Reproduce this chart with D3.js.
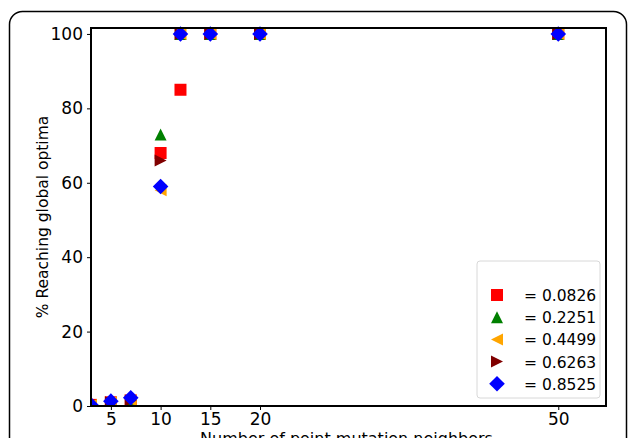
<!DOCTYPE html>
<html>
<head>
<meta charset="utf-8">
<script src="https://cdn.jsdelivr.net/npm/d3@7"></script>
<style>
  body { margin: 0; background: #fff; }
  svg { font-family: "DejaVu Sans", sans-serif; }
</style>
</head>
<body>
<script>
// neighbors on x, % reaching global optima on y
var neighbors = [3, 5, 7, 10, 12, 15, 20, 50];
var sigmaLabels = ["= 0.0826", "= 0.2251", "= 0.4499", "= 0.6263", "= 0.8525"];
var pct0826 = [0.3, 1.0, 1.5, 68, 85, 100, 100, 100];
var pct2251 = [0.3, 1.0, 1.5, 73, 100, 100, 100, 100];
var pct4499 = [0.3, 1.0, 1.5, 58, 100, 100, 100, 100];
var pct6263 = [0.3, 1.0, 1.5, 66, 100, 100, 100, 100];
var pct8525 = [0.3, 1.3, 2.2, 59, 100, 100, 100, 100];
var yTicks = [0, 20, 40, 60, 80, 100];
var xTicks = [5, 10, 15, 20, 50];

var series = [
  { label: sigmaLabels[0], values: pct0826, color: "#ff0000", shape: "square" },
  { label: sigmaLabels[1], values: pct2251, color: "#008000", shape: "up" },
  { label: sigmaLabels[2], values: pct4499, color: "#ffa500", shape: "left" },
  { label: sigmaLabels[3], values: pct6263, color: "#800000", shape: "right" },
  { label: sigmaLabels[4], values: pct8525, color: "#0000ff", shape: "diamond" }
];

var W = 629, H = 438;
var svg = d3.select("body").append("svg").attr("width", W).attr("height", H);

// outer rounded frame
svg.append("rect")
  .attr("x", 9.5).attr("y", 11.5).attr("width", 617).attr("height", 460)
  .attr("rx", 13).attr("fill", "none").attr("stroke", "#000").attr("stroke-width", 1.5);

var pL = 91, pR = 606, pT = 28, pB = 406;
var x = d3.scaleLinear().domain([3, 54.8]).range([pL, pR]);
var y = d3.scaleLinear().domain([0, 101.6]).range([pB, pT]);

var xAxis = svg.append("g").attr("transform", "translate(0," + pB + ")")
  .call(d3.axisBottom(x).tickValues(xTicks).tickSize(4).tickPadding(3));
var yAxis = svg.append("g").attr("transform", "translate(" + pL + ",0)")
  .call(d3.axisLeft(y).tickValues(yTicks).tickSize(4).tickPadding(4));
[xAxis, yAxis].forEach(function (g) {
  g.select(".domain").remove();
  g.selectAll("text").attr("font-size", 17).attr("fill", "#000")
    .attr("font-family", "DejaVu Sans, sans-serif");
  g.selectAll("line").attr("stroke", "#000").attr("stroke-width", 1);
});

function path(shape, s) {
  var h = s / 2;
  if (shape === "square") return "M" + (-h) + "," + (-h) + "h" + s + "v" + s + "h" + (-s) + "Z";
  if (shape === "up") return "M0," + (-h) + "L" + h + "," + h + "L" + (-h) + "," + h + "Z";
  if (shape === "left") return "M" + (-h) + ",0L" + h + "," + (-h) + "L" + h + "," + h + "Z";
  if (shape === "right") return "M" + h + ",0L" + (-h) + "," + (-h) + "L" + (-h) + "," + h + "Z";
  var d = h * 1.3;
  return "M0," + (-d) + "L" + d + ",0L0," + d + "L" + (-d) + ",0Z";
}

var plot = svg.append("g");
plot.append("clipPath").attr("id", "clip").append("rect")
  .attr("x", pL).attr("y", pT - 10).attr("width", pR - pL).attr("height", pB - pT + 10);
var marks = plot.append("g").attr("clip-path", "url(#clip)");
series.forEach(function (s) {
  marks.selectAll(null).data(s.values).enter().append("path")
    .attr("d", path(s.shape, 12))
    .attr("transform", function (d, i) { return "translate(" + x(neighbors[i]) + "," + y(d) + ")"; })
    .attr("fill", s.color);
});

// axes box
svg.append("rect").attr("x", pL).attr("y", pT).attr("width", pR - pL).attr("height", pB - pT)
  .attr("fill", "none").attr("stroke", "#000").attr("stroke-width", 2);

// labels
svg.append("text").attr("x", (pL + pR) / 2 - 2).attr("y", 444)
  .attr("text-anchor", "middle").attr("font-size", 16).text("Number of point mutation neighbors");
svg.append("text").attr("transform", "translate(48," + ((pT + pB) / 2) + ") rotate(-90)")
  .attr("text-anchor", "middle").attr("font-size", 15.5).text("% Reaching global optima");

// legend
var lg = svg.append("g").attr("transform", "translate(477,261)");
lg.append("rect").attr("width", 123).attr("height", 137).attr("rx", 3)
  .attr("fill", "#fff").attr("fill-opacity", 0.8).attr("stroke", "#d8d8d8");
series.forEach(function (s, i) {
  var cy = 34 + i * 22.2;
  lg.append("path").attr("d", path(s.shape, 12)).attr("transform", "translate(20," + cy + ")").attr("fill", s.color);
  lg.append("text").attr("x", 47).attr("y", cy + 6).attr("font-size", 15.5).text(s.label);
});
</script>
</body>
</html>
